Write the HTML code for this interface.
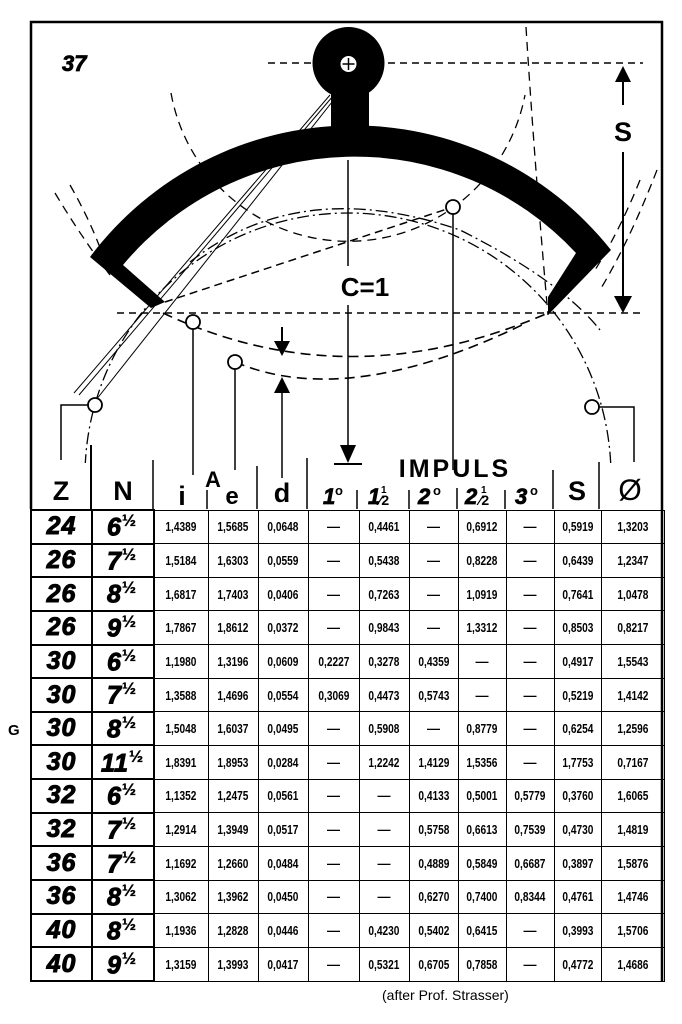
<!DOCTYPE html>
<html><head><meta charset="utf-8"><style>
body{margin:0;width:682px;height:1024px;background:#fff;position:relative;overflow:hidden;font-family:"Liberation Sans",sans-serif}
table{position:absolute;left:30px;top:509px;width:633px;height:473px;border-collapse:collapse;table-layout:fixed}
td{border:1.5px solid #000;padding:0;text-align:center;font-size:13px;font-weight:bold;white-space:nowrap;overflow:hidden}
td span{display:inline-block;transform:scaleX(0.78)}
td.z,td.n{border:2.5px solid #000;font-size:25px;font-style:italic;font-weight:bold;letter-spacing:1px;-webkit-text-stroke:1px #000}
td.n{text-align:left;padding-left:14px}
sup.f{font-size:17px;font-style:normal;-webkit-text-stroke:0.3px #000;letter-spacing:-1px}
svg{position:absolute;left:0;top:0}
</style></head><body>
<table>
<colgroup><col style="width:61px"><col style="width:62px"><col style="width:54px"><col style="width:50px"><col style="width:50px"><col style="width:51px"><col style="width:50px"><col style="width:49px"><col style="width:48px"><col style="width:48px"><col style="width:47px"><col style="width:63px"></colgroup>
<tr><td class="z">24</td><td class="n">6<sup class="f">½</sup></td><td><span>1,4389</span></td><td><span>1,5685</span></td><td><span>0,0648</span></td><td>—</td><td><span>0,4461</span></td><td>—</td><td><span>0,6912</span></td><td>—</td><td><span>0,5919</span></td><td><span>1,3203</span></td></tr>
<tr><td class="z">26</td><td class="n">7<sup class="f">½</sup></td><td><span>1,5184</span></td><td><span>1,6303</span></td><td><span>0,0559</span></td><td>—</td><td><span>0,5438</span></td><td>—</td><td><span>0,8228</span></td><td>—</td><td><span>0,6439</span></td><td><span>1,2347</span></td></tr>
<tr><td class="z">26</td><td class="n">8<sup class="f">½</sup></td><td><span>1,6817</span></td><td><span>1,7403</span></td><td><span>0,0406</span></td><td>—</td><td><span>0,7263</span></td><td>—</td><td><span>1,0919</span></td><td>—</td><td><span>0,7641</span></td><td><span>1,0478</span></td></tr>
<tr><td class="z">26</td><td class="n">9<sup class="f">½</sup></td><td><span>1,7867</span></td><td><span>1,8612</span></td><td><span>0,0372</span></td><td>—</td><td><span>0,9843</span></td><td>—</td><td><span>1,3312</span></td><td>—</td><td><span>0,8503</span></td><td><span>0,8217</span></td></tr>
<tr><td class="z">30</td><td class="n">6<sup class="f">½</sup></td><td><span>1,1980</span></td><td><span>1,3196</span></td><td><span>0,0609</span></td><td><span>0,2227</span></td><td><span>0,3278</span></td><td><span>0,4359</span></td><td>—</td><td>—</td><td><span>0,4917</span></td><td><span>1,5543</span></td></tr>
<tr><td class="z">30</td><td class="n">7<sup class="f">½</sup></td><td><span>1,3588</span></td><td><span>1,4696</span></td><td><span>0,0554</span></td><td><span>0,3069</span></td><td><span>0,4473</span></td><td><span>0,5743</span></td><td>—</td><td>—</td><td><span>0,5219</span></td><td><span>1,4142</span></td></tr>
<tr><td class="z">30</td><td class="n">8<sup class="f">½</sup></td><td><span>1,5048</span></td><td><span>1,6037</span></td><td><span>0,0495</span></td><td>—</td><td><span>0,5908</span></td><td>—</td><td><span>0,8779</span></td><td>—</td><td><span>0,6254</span></td><td><span>1,2596</span></td></tr>
<tr><td class="z">30</td><td class="n" style="padding-left:8px">11<sup class="f">½</sup></td><td><span>1,8391</span></td><td><span>1,8953</span></td><td><span>0,0284</span></td><td>—</td><td><span>1,2242</span></td><td><span>1,4129</span></td><td><span>1,5356</span></td><td>—</td><td><span>1,7753</span></td><td><span>0,7167</span></td></tr>
<tr><td class="z">32</td><td class="n">6<sup class="f">½</sup></td><td><span>1,1352</span></td><td><span>1,2475</span></td><td><span>0,0561</span></td><td>—</td><td>—</td><td><span>0,4133</span></td><td><span>0,5001</span></td><td><span>0,5779</span></td><td><span>0,3760</span></td><td><span>1,6065</span></td></tr>
<tr><td class="z">32</td><td class="n">7<sup class="f">½</sup></td><td><span>1,2914</span></td><td><span>1,3949</span></td><td><span>0,0517</span></td><td>—</td><td>—</td><td><span>0,5758</span></td><td><span>0,6613</span></td><td><span>0,7539</span></td><td><span>0,4730</span></td><td><span>1,4819</span></td></tr>
<tr><td class="z">36</td><td class="n">7<sup class="f">½</sup></td><td><span>1,1692</span></td><td><span>1,2660</span></td><td><span>0,0484</span></td><td>—</td><td>—</td><td><span>0,4889</span></td><td><span>0,5849</span></td><td><span>0,6687</span></td><td><span>0,3897</span></td><td><span>1,5876</span></td></tr>
<tr><td class="z">36</td><td class="n">8<sup class="f">½</sup></td><td><span>1,3062</span></td><td><span>1,3962</span></td><td><span>0,0450</span></td><td>—</td><td>—</td><td><span>0,6270</span></td><td><span>0,7400</span></td><td><span>0,8344</span></td><td><span>0,4761</span></td><td><span>1,4746</span></td></tr>
<tr><td class="z">40</td><td class="n">8<sup class="f">½</sup></td><td><span>1,1936</span></td><td><span>1,2828</span></td><td><span>0,0446</span></td><td>—</td><td><span>0,4230</span></td><td><span>0,5402</span></td><td><span>0,6415</span></td><td>—</td><td><span>0,3993</span></td><td><span>1,5706</span></td></tr>
<tr><td class="z">40</td><td class="n">9<sup class="f">½</sup></td><td><span>1,3159</span></td><td><span>1,3993</span></td><td><span>0,0417</span></td><td>—</td><td><span>0,5321</span></td><td><span>0,6705</span></td><td><span>0,7858</span></td><td>—</td><td><span>0,4772</span></td><td><span>1,4686</span></td></tr>
</table>
<svg width="682" height="1024" viewBox="0 0 682 1024">
<defs><clipPath id="c"><rect x="31" y="23" width="630" height="440"/></clipPath></defs>
<path d="M31,509 V22 H662 V509" fill="none" stroke="#000" stroke-width="2.5"/>
<g clip-path="url(#c)" fill="none" stroke="#000">
<line x1="268" y1="63" x2="643" y2="63" stroke-width="1.5" stroke-dasharray="7,5"/>
<line x1="117" y1="313" x2="643" y2="313" stroke-width="1.5" stroke-dasharray="7,5"/>
<circle cx="348" cy="476" r="263" stroke-width="1.3" stroke-dasharray="12,4,2,4"/>
<path d="M171,93 A180,180 0 0 0 525,95" stroke-width="1.3" stroke-dasharray="9,6"/>
<path d="M526,27 Q535,170 548,315" stroke-width="1.3" stroke-dasharray="9,6"/>
<path d="M55,193 Q80,235 110,275" stroke-width="1.3" stroke-dasharray="9,6"/>
<path d="M70,185 Q90,220 102,253" stroke-width="1.3" stroke-dasharray="9,6"/>
<path d="M657,170 Q630,240 600,290" stroke-width="1.3" stroke-dasharray="9,6"/>
<path d="M640,180 Q620,230 595,270" stroke-width="1.3" stroke-dasharray="9,6"/>
<line x1="165" y1="302" x2="453" y2="207" stroke-width="1.5" stroke-dasharray="8,5"/>
<path d="M190,262 Q300,175 460,230 Q560,280 600,330" stroke-width="1.3" stroke-dasharray="12,4,2,4"/>
<path d="M163,313 Q348,400 548,313" stroke-width="1.6" stroke-dasharray="10,6"/>
<path d="M235,362 Q348,410 526,323" stroke-width="1.6" stroke-dasharray="10,6"/>
<line x1="330" y1="95" x2="74" y2="393" stroke-width="1"/>
<line x1="333" y1="96" x2="79" y2="395" stroke-width="1"/>
<line x1="336" y1="97" x2="96" y2="400" stroke-width="1"/>
</g>
<circle cx="348.5" cy="63" r="36" fill="#000"/>
<rect x="331" y="80" width="38" height="65" fill="#000"/>
<path d="M90,257 A329,329 0 0 1 611,250 L548,315 L548,297 L576,253 A302,302 0 0 0 123,265 L165,302 L151,308 Z" fill="#000"/>
<circle cx="348.5" cy="64" r="8" fill="#fff"/>
<line x1="348.5" y1="58" x2="348.5" y2="70" stroke="#000" stroke-width="1.5"/>
<line x1="342.5" y1="64" x2="354.5" y2="64" stroke="#000" stroke-width="1.5"/>
<line x1="623" y1="78" x2="623" y2="105" stroke="#000" stroke-width="2"/>
<line x1="623" y1="152" x2="623" y2="296" stroke="#000" stroke-width="2"/>
<polygon points="623,66 615,82 631,82" fill="#000"/>
<polygon points="623,313 614,296 632,296" fill="#000"/>
<text x="623" y="141" font-size="27" font-weight="bold" text-anchor="middle">S</text>
<line x1="348" y1="160" x2="348" y2="266" stroke="#000" stroke-width="1.5"/>
<line x1="348" y1="305" x2="348" y2="445" stroke="#000" stroke-width="1.5"/>
<polygon points="348,463 340,445 356,445" fill="#000"/>
<line x1="334" y1="464" x2="362" y2="464" stroke="#000" stroke-width="2"/>
<text x="365" y="296" font-size="26" font-weight="bold" text-anchor="middle">C=1</text>
<line x1="282" y1="327" x2="282" y2="342" stroke="#000" stroke-width="2"/>
<polygon points="282,356 274,341 290,341" fill="#000"/>
<polygon points="282,377 274,393 290,393" fill="#000"/>
<line x1="282" y1="392" x2="282" y2="478" stroke="#000" stroke-width="1.5"/>
<g fill="#fff" stroke="#000" stroke-width="1.8">
<circle cx="95" cy="405" r="7"/><circle cx="592" cy="407" r="7"/>
<circle cx="193" cy="322" r="7"/><circle cx="235" cy="362" r="7"/><circle cx="453" cy="207" r="7"/>
</g>
<g stroke="#000" stroke-width="1.5" fill="none">
<path d="M88,405 H61 V460"/>
<path d="M599,407 H634 V462"/>
<line x1="193" y1="329" x2="193" y2="475"/>
<line x1="235" y1="369" x2="235" y2="470"/>
<line x1="453" y1="214" x2="453" y2="470"/>
<line x1="91" y1="445" x2="91" y2="509" stroke-width="2"/>
<line x1="153" y1="460" x2="153" y2="509"/>
<line x1="207" y1="490" x2="207" y2="509"/>
<line x1="257" y1="466" x2="257" y2="509"/>
<line x1="307" y1="458" x2="307" y2="509"/>
<line x1="357" y1="490" x2="357" y2="509"/>
<line x1="409" y1="490" x2="409" y2="509"/>
<line x1="457" y1="488" x2="457" y2="509"/>
<line x1="505" y1="490" x2="505" y2="509"/>
<line x1="553" y1="470" x2="553" y2="509"/>
<line x1="599" y1="462" x2="599" y2="509"/>
<line x1="662" y1="509" x2="662" y2="982" stroke-width="2.5"/>
</g>
<g font-size="27" font-weight="bold" text-anchor="middle">
<text x="61" y="500">Z</text><text x="123" y="500">N</text>
<text x="182" y="505">i</text><text x="213" y="487" font-size="22">A</text><text x="232" y="504" font-size="24">e</text>
<text x="282" y="502">d</text>
<text x="455" y="477" font-size="25" letter-spacing="3">IMPULS</text>
<text x="577" y="500">S</text><text x="630" y="500" font-weight="normal" font-size="30">Ø</text>
</g>
<g font-size="22" font-weight="bold" font-style="italic" stroke="#000" stroke-width="0.8">
<text x="323" y="504">1</text><text x="335" y="495" font-size="13" font-style="normal" stroke-width="0">o</text>
<text x="368" y="504">1</text><text x="381" y="493" font-size="10" font-style="normal" stroke-width="0">1</text><text x="379" y="505" font-size="14" font-style="normal" stroke-width="0">⁄2</text>
<text x="418" y="504">2</text><text x="433" y="495" font-size="13" font-style="normal" stroke-width="0">o</text>
<text x="465" y="504">2</text><text x="481" y="493" font-size="10" font-style="normal" stroke-width="0">1</text><text x="479" y="505" font-size="14" font-style="normal" stroke-width="0">⁄2</text>
<text x="515" y="504">3</text><text x="530" y="495" font-size="13" font-style="normal" stroke-width="0">o</text>
</g>
<text x="62" y="71" font-size="22" font-weight="bold" font-style="italic" stroke="#000" stroke-width="0.8">37</text>
<text x="8" y="735" font-size="15" font-weight="bold">G</text>
<text x="382" y="1000" font-size="14">(after Prof. Strasser)</text>
</svg>
</body></html>
